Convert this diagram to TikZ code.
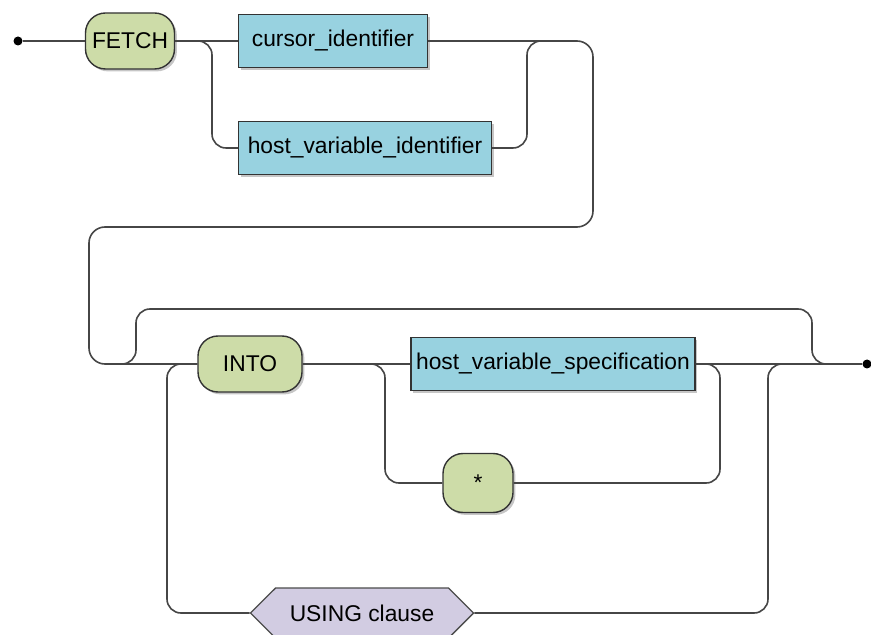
\documentclass[tikz,border=0pt]{standalone}
\usepackage{fontspec}
\setmainfont{Liberation Sans}
\usepackage{tikz}
\usetikzlibrary{shapes, shapes.symbols, positioning, shadows}
\usepackage{xcolor}
\definecolor{KeyGreen}{RGB}{205,220,168}
\definecolor{IdentBlue}{RGB}{152,210,224}
\definecolor{ClauseLilac}{RGB}{210,204,226}
\definecolor{RailGray}{RGB}{70,70,70}

\begin{document}
\begin{tikzpicture}[
          x=0.5pt, y=-0.5pt,
          font=\fontsize{11.4}{13}\selectfont,
          keyword/.style={rectangle, rounded corners=10pt, draw=black!80, fill=KeyGreen, line width=0.7pt, minimum height=28pt, inner sep=0pt, drop shadow={shadow xshift=1.2pt, shadow yshift=-1.2pt, opacity=0.45}},
          ident/.style={rectangle, draw=black!80, fill=IdentBlue, line width=0.7pt, minimum height=26.5pt, inner sep=0pt, drop shadow={shadow xshift=1.2pt, shadow yshift=-1.2pt, opacity=0.45}},
          clause/.style={signal, signal to=east and west, draw=black!70, fill=ClauseLilac, line width=0.7pt, minimum height=25pt, inner sep=0pt},
          dot/.style={circle, fill=black, inner sep=0pt, minimum size=4.5pt},
          rail/.style={line width=0.8pt, RailGray, rounded corners=7pt}
        ]
          \useasboundingbox (0,0) rectangle (871,635);
          % nodes
          \node (start) [dot] at (18,41) {};
          \node (fetch) [keyword, minimum width=44.5pt] at (130,41) {FETCH};
          \node (cursor) [ident, minimum width=94.5pt] at (333,41) {cursor\_identifier};
          \node (hostid) [ident, minimum width=126.5pt] at (365,148) {host\_variable\_identifier};
          \node (into) [keyword, minimum width=52pt] at (250,364) {INTO};
          \node (hostspec) [ident, minimum width=142pt] at (553,364) {host\_variable\_specification};
          \node (star) [keyword, minimum width=35pt, minimum height=29.5pt] at (478,483) {*};
          \node (using) [clause, minimum width=111.5pt] at (362,613) {USING clause};
          \node (stop) [dot] at (867,364) {};
          \coordinate (split) at (118,364);
          \coordinate (join) at (832,364);
          \coordinate (merge) at (545,41);

          % first row
          \draw[rail] (start) -- (fetch.west);
          \draw[rail] (fetch.east) -- (cursor.west);
          \draw[rail] (fetch.east) -- (212,41) -- (212,148) -- (hostid.west);
          \draw[rail] (hostid.east) -- (527,148) -- (527,41) -- (merge);
          \draw[rail, rounded corners=8pt] (cursor.east) -- (593,41) -- (593,227) -- (89,227) -- (89,364) -- (into.west);

          % second row
          \draw[rail] (split) -- (136,364) -- (136,309) -- (812,309) -- (812,364) -- (join);
          \draw[rail] (into.east) -- (hostspec.west);
          \draw[rail] (into.east) -- (385,364) -- (385,483) -- (star.west);
          \draw[rail] (star.east) -- (720,483) -- (720,364) -- (hostspec.east);
          \draw[rail] (hostspec.east) -- (stop);
          \draw[rail] (into.west) -- (167,364) -- (167,613) -- (using.west);
          \draw[rail] (using.east) -- (768,613) -- (768,364) -- (stop);
        \end{tikzpicture}
\end{document}
